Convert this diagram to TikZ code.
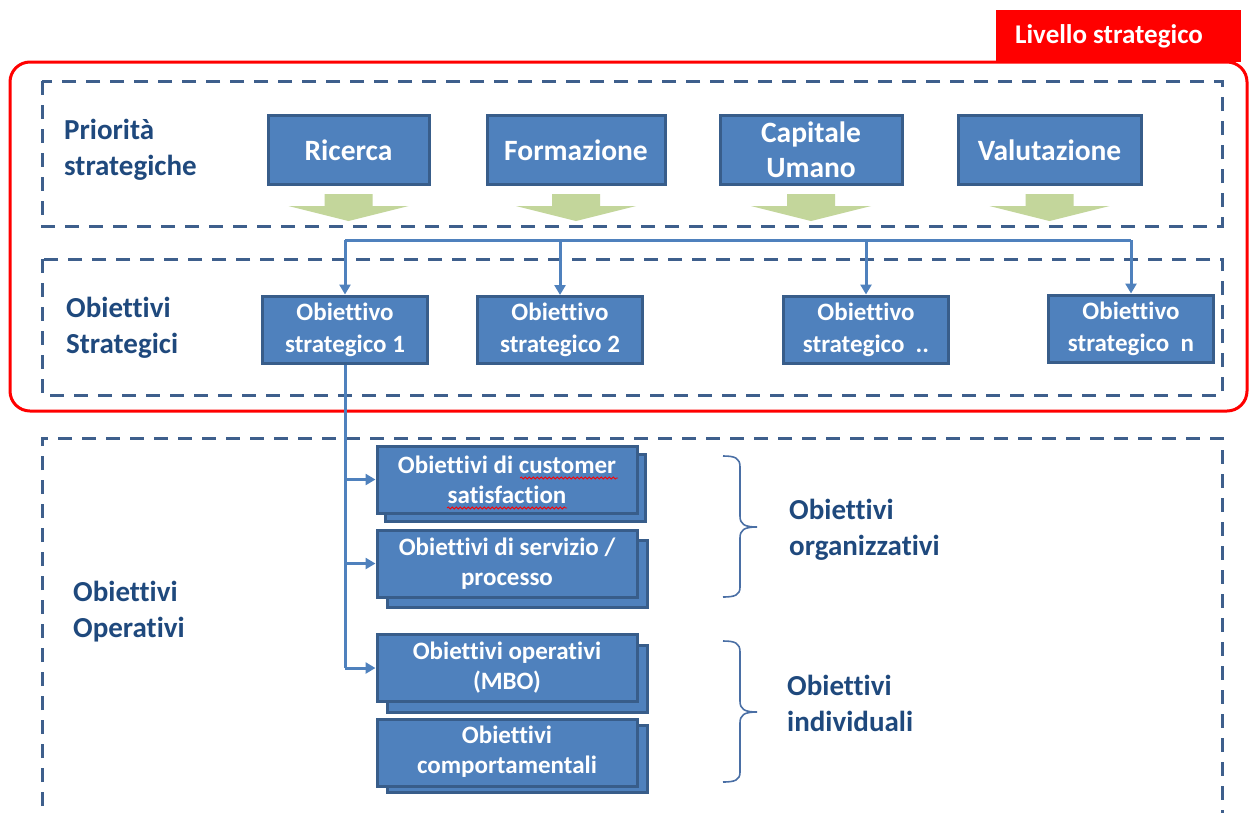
\documentclass[tikz,border=0pt]{standalone}
\usepackage{fontspec}
\setmainfont{Carlito}[Ligatures=NoCommon]
\usetikzlibrary{arrows.meta,calc,decorations.pathmorphing}
\definecolor{boxfill}{HTML}{4F81BD}
\definecolor{boxline}{HTML}{385D8A}
\definecolor{dashcol}{HTML}{3E5F8C}
\definecolor{navy}{HTML}{1F497D}
\definecolor{greenarr}{HTML}{C3D69B}
\definecolor{conncol}{HTML}{4F81BD}
\definecolor{bracecol}{HTML}{4A6FA5}
\tikzset{
  bigbox/.style={draw=boxline, line width=3pt, fill=boxfill, text=white, font=\bfseries\fontsize{29.5}{35}\selectfont, align=center, inner sep=0pt},
  smallbox/.style={draw=boxline, line width=3pt, fill=boxfill, text=white, font=\bfseries\fontsize{25}{32}\selectfont, align=center, inner sep=0pt, minimum width=165pt, minimum height=67pt},
  stackbox/.style={draw=boxline, line width=3pt, fill=boxfill, text=white, font=\bfseries\fontsize{25}{30}\selectfont, align=center, inner sep=0pt, minimum width=260pt, minimum height=67pt},
  dashbox/.style={draw=dashcol, line width=3pt, dash pattern=on 14pt off 10pt},
  lbl/.style={text=navy, font=\bfseries\fontsize{29}{36}\selectfont, align=left, anchor=west, inner sep=0pt},
  conn/.style={draw=conncol, line width=3pt},
  connarrow/.style={conn, -{Triangle[length=10pt,width=11pt]}},
  bracestyle/.style={draw=bracecol, line width=1.6pt},
  greenfill/.style={fill=greenarr},
  spell/.style={draw=red, line width=0.8pt, decorate, decoration={snake, amplitude=1pt, segment length=4pt}}
}
\begin{document}
\begin{tikzpicture}[x=1pt,y=-1pt]
\useasboundingbox (0,0) rectangle (1249,812);
% red frame and tag
\fill[red] (996,10) rectangle (1241,62);
\draw[red, line width=3pt, rounded corners=20pt, fill=white] (10,62) rectangle (1247,411);
\fill[red] (996,58) rectangle (1241,62);
\node[text=white, font=\bfseries\fontsize{27}{30}\selectfont, inner sep=0pt] (tag) at (1109,36) {Livello strategico};
% dashed boxes
\draw[dashbox] (42,81) rectangle (1222,226);
\draw[dashbox] (42,259) rectangle (1222,395);
\draw[dashbox] (42,830) -- (42,438) -- (1222,438) -- (1222,830);
% left labels
\node[lbl] (lp) at (64,150) {Priorità\\strategiche};
\node[lbl] (lo) at (66,328) {Obiettivi\\Strategici};
\node[lbl] (lop) at (73,612) {Obiettivi\\Operativi};
% top boxes
\node[bigbox, minimum width=161pt, minimum height=69pt] (ric) at (348.5,150) {Ricerca};
\node[bigbox, minimum width=178pt, minimum height=69pt] (for) at (576,150) {Formazione};
\node[bigbox, minimum width=182pt, minimum height=69pt] (cap) at (811,150) {Capitale\\Umano};
\node[bigbox, minimum width=183pt, minimum height=69pt] (val) at (1049.5,150) {Valutazione};
% green arrows
\foreach \n in {ric,for,cap,val}{
  \fill[greenfill] ($(\n.south)+(-24,8)$) -- ($(\n.south)+(24,8)$) -- ($(\n.south)+(24,20)$) -- ($(\n.south)+(60,20)$) -- ($(\n.south)+(0,35)$) -- ($(\n.south)+(-60,20)$) -- ($(\n.south)+(-24,20)$) -- cycle;
}
% strategic objectives
\node[smallbox] (os1) at (345,329.5) {Obiettivo\\strategico 1};
\node[smallbox] (os2) at (560,330) {Obiettivo\\strategico 2};
\node[smallbox] (os3) at (866,329.5) {Obiettivo\\strategico~~..};
\node[smallbox] (osn) at (1131,328.5) {Obiettivo\\strategico~~n};
\coordinate (hl) at (345,240);
\draw[conn] (os1.north |- hl) -- (osn.north |- hl);
\foreach \n in {os1,os2,os3,osn}{
  \draw[connarrow] (\n.north |- hl) -- (\n.north);
}
% operative stacked boxes
\node[stackbox] (ab) at (515,488) {};
\node[stackbox] (a) at (507,479.5) {Obiettivi di customer\\satisfaction};
\node[stackbox] (bb) at (517,574) {};
\node[stackbox] (b) at (507,563.5) {Obiettivi di servizio /\\processo};
\node[stackbox] (cb) at (517,679) {};
\node[stackbox] (c) at (507,668) {\raisebox{-3pt}{\begin{tabular}{@{}c@{}}Obiettivi operativi\\(MBO)\end{tabular}}};
\node[stackbox] (db) at (517,759) {};
\node[stackbox] (d) at (507,752.5) {\raisebox{-3pt}{\begin{tabular}{@{}c@{}}Obiettivi\\comportamentali\end{tabular}}};
% spell-check underlines
\draw[spell] (520,478) -- (618,478);
\draw[spell] (447,508) -- (567,508);
% connectors down
\draw[conn] (os1.south) -- (os1.south |- c.west);
\draw[connarrow] (os1.south |- c.west) -- (c.west);
\draw[connarrow] (os1.south |- a.west) -- (a.west);
\draw[connarrow] (os1.south |- b.west) -- (b.west);
% braces
\draw[bracestyle] (723,456) .. controls (735,456) and (740,458) .. (740,467) -- (740,516) .. controls (740,524) and (744,527) .. (757,527) .. controls (744,527) and (740,530) .. (740,538) -- (740,587) .. controls (740,595) and (735,597) .. (723,597);
\draw[bracestyle] (723,641) .. controls (735,641) and (740,643) .. (740,652) -- (740,701) .. controls (740,709) and (744,712) .. (757,712) .. controls (744,712) and (740,715) .. (740,723) -- (740,772) .. controls (740,780) and (735,782) .. (723,782);
\node[lbl] (lorg) at (789,530) {Obiettivi\\organizzativi};
\node[lbl] (lind) at (787,703) {Obiettivi\\individuali};
\end{tikzpicture}
\end{document}
